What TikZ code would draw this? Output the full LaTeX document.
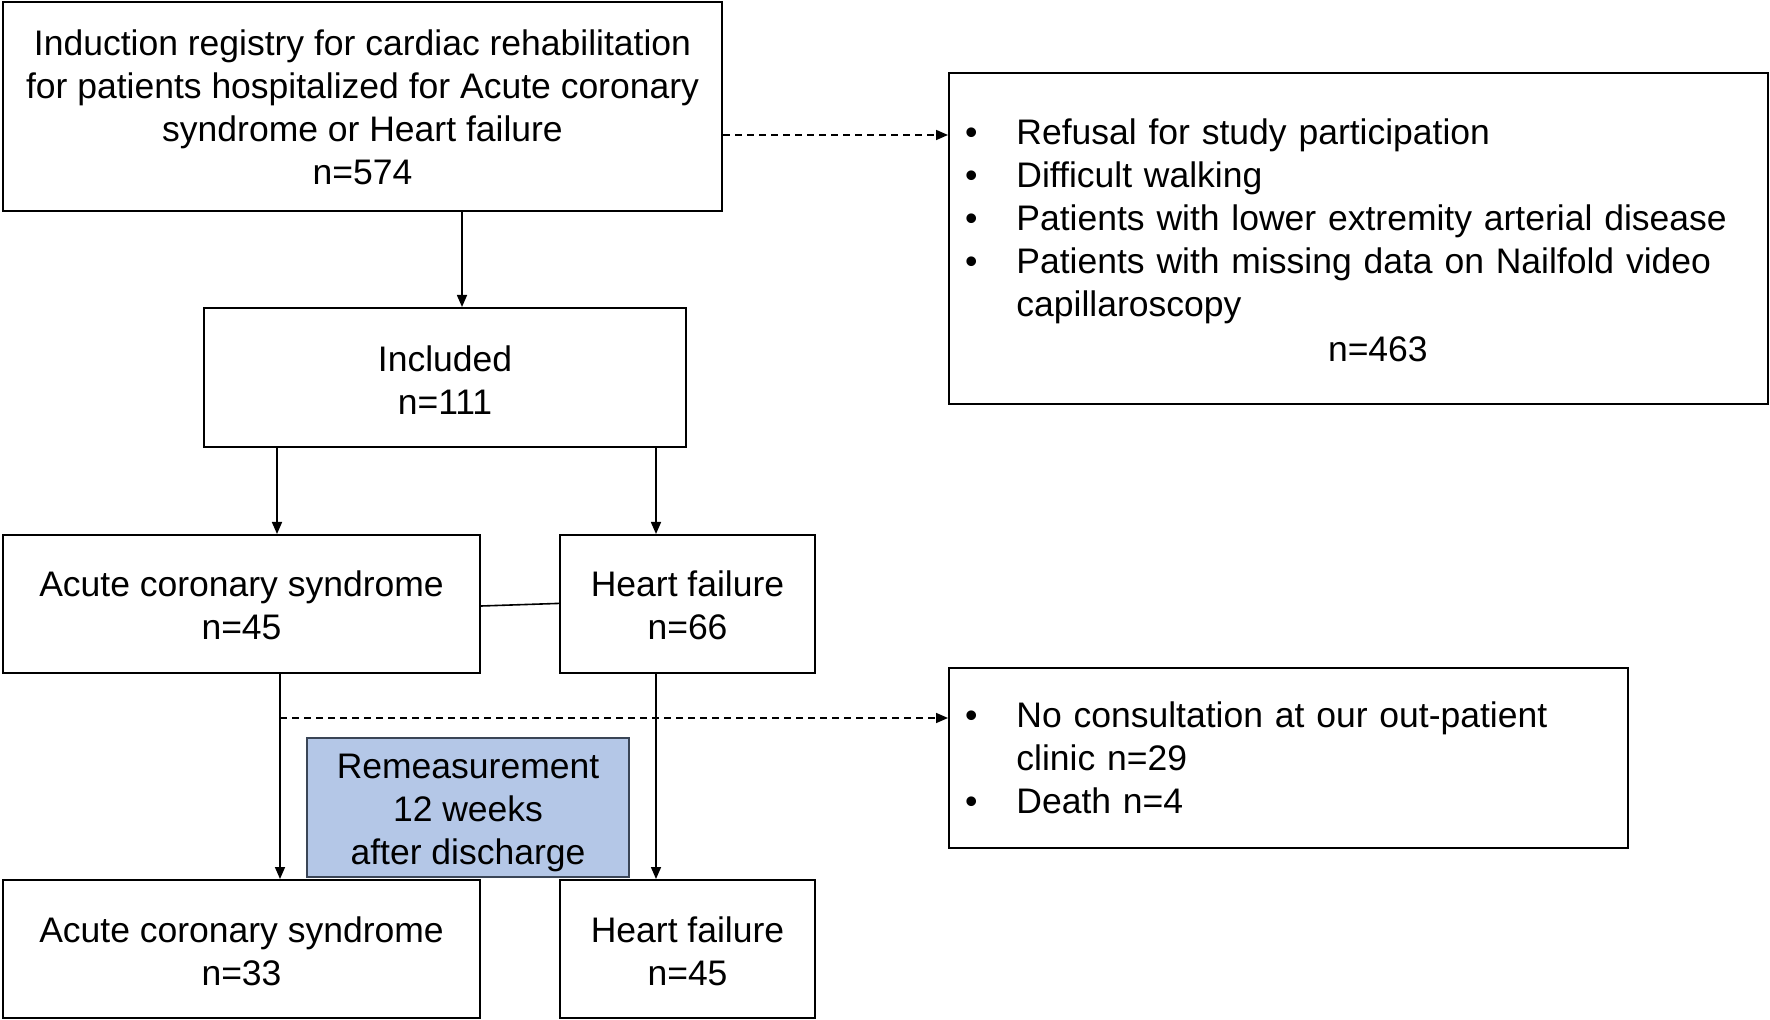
\documentclass[tikz,border=0pt]{standalone}
\usepackage{fontspec}
\setmainfont{Liberation Sans}
\usetikzlibrary{arrows.meta}
\definecolor{remfill}{HTML}{B4C7E7}
\definecolor{remdraw}{HTML}{3A4556}
\newcommand{\ctext}[2]{\begin{tabular}{@{}c@{}}\noalign{\vskip #1}#2\end{tabular}}
\tikzset{
  basefont/.style={font=\fontsize{17.75pt}{21.5pt}\selectfont},
  box/.style={draw=black, line width=1pt, rectangle, basefont, align=center, inner sep=0pt},
  listbox/.style={draw=black, line width=1pt, rectangle, basefont, inner xsep=0pt, inner ysep=0pt},
  rembox/.style={box, draw=remdraw, fill=remfill},
  arr/.style={line width=0.8pt, -{Triangle[length=6pt,width=5pt]}},
  dasharr/.style={arr, dash pattern=on 3.5pt off 2.5pt},
  plain/.style={line width=0.8pt}
}
\begin{document}
\begin{tikzpicture}[x=0.5pt,y=-0.5pt]
\useasboundingbox (0,0) rectangle (1770,1020);
\fill[white] (0,0) rectangle (1770,1020);

\node[box, minimum width=359.5pt, minimum height=104.5pt] (top) at (362.5,106.5)
  {\ctext{5.3pt}{Induction registry for cardiac rehabilitation\\for patients hospitalized for Acute coronary\\syndrome or Heart failure\\n=574}};

\node[box, minimum width=241pt, minimum height=69.5pt] (inc) at (445,377.5) {\ctext{6.8pt}{Included\\n=111}};

\node[box, minimum width=238.5pt, minimum height=69pt] (acs1) at (241.5,604) {\ctext{5.8pt}{Acute coronary syndrome\\n=45}};
\node[box, minimum width=127.5pt, minimum height=69pt] (hf1) at (687.5,604) {\ctext{5.8pt}{Heart failure\\n=66}};

\node[box, minimum width=238.5pt, minimum height=69pt] (acs2) at (241.5,949) {\ctext{6.6pt}{Acute coronary syndrome\\n=33}};
\node[box, minimum width=127.5pt, minimum height=69pt] (hf2) at (687.5,949) {\ctext{6.6pt}{Heart failure\\n=45}};

\node[rembox, minimum width=161pt, minimum height=68.5pt] (rem) at (468,807.5) {\ctext{5.3pt}{Remeasurement\\12 weeks\\after discharge}};

\node[listbox, minimum width=409.5pt, minimum height=165.5pt, text width=409.5pt] (ex1) at (1358.5,238.5)
  {\hspace*{8pt}\begin{tabular}{@{}l@{\hspace{19.5pt}}l@{}}
  \noalign{\vskip 5.6pt}
  \textbullet & Refusal for study participation\\
  \textbullet & Difficult walking\\
  \textbullet & Patients with lower extremity arterial disease\\
  \textbullet & Patients with missing data on Nailfold video\\
   & capillaroscopy\\[1pt]
  \multicolumn{2}{@{}l@{}}{\hspace*{181.5pt}n=463}
  \end{tabular}};

\node[listbox, minimum width=339.5pt, minimum height=90pt, text width=339.5pt] (ex2) at (1288.5,758)
  {\hspace*{8pt}\begin{tabular}{@{}l@{\hspace{19.5pt}}l@{}}
  \noalign{\vskip 3.4pt}
  \textbullet & No consultation at our out-patient\\
   & clinic n=29\\
  \textbullet & Death n=4
  \end{tabular}};

\coordinate (x462) at (462,0);
\coordinate (x277) at (277,0);
\coordinate (x280) at (280,0);
\coordinate (x656) at (656,0);
\coordinate (y135) at (0,135);
\coordinate (d2) at (280,718);

\draw[arr] (top.south -| x462) -- (inc.north -| x462);
\draw[arr] (inc.south -| x277) -- (acs1.north -| x277);
\draw[arr] (inc.south -| x656) -- (hf1.north -| x656);
\draw[plain] ([yshift=-1pt]acs1.east) -- ([yshift=0.3pt]hf1.west);
\draw[arr] (acs1.south -| x280) -- (acs2.north -| x280);
\draw[arr] (hf1.south -| x656) -- (hf2.north -| x656);
\draw[dasharr] (top.east |- y135) -- (ex1.west |- y135);
\draw[dasharr] (d2) -- (ex2.west |- d2);
\end{tikzpicture}
\end{document}
